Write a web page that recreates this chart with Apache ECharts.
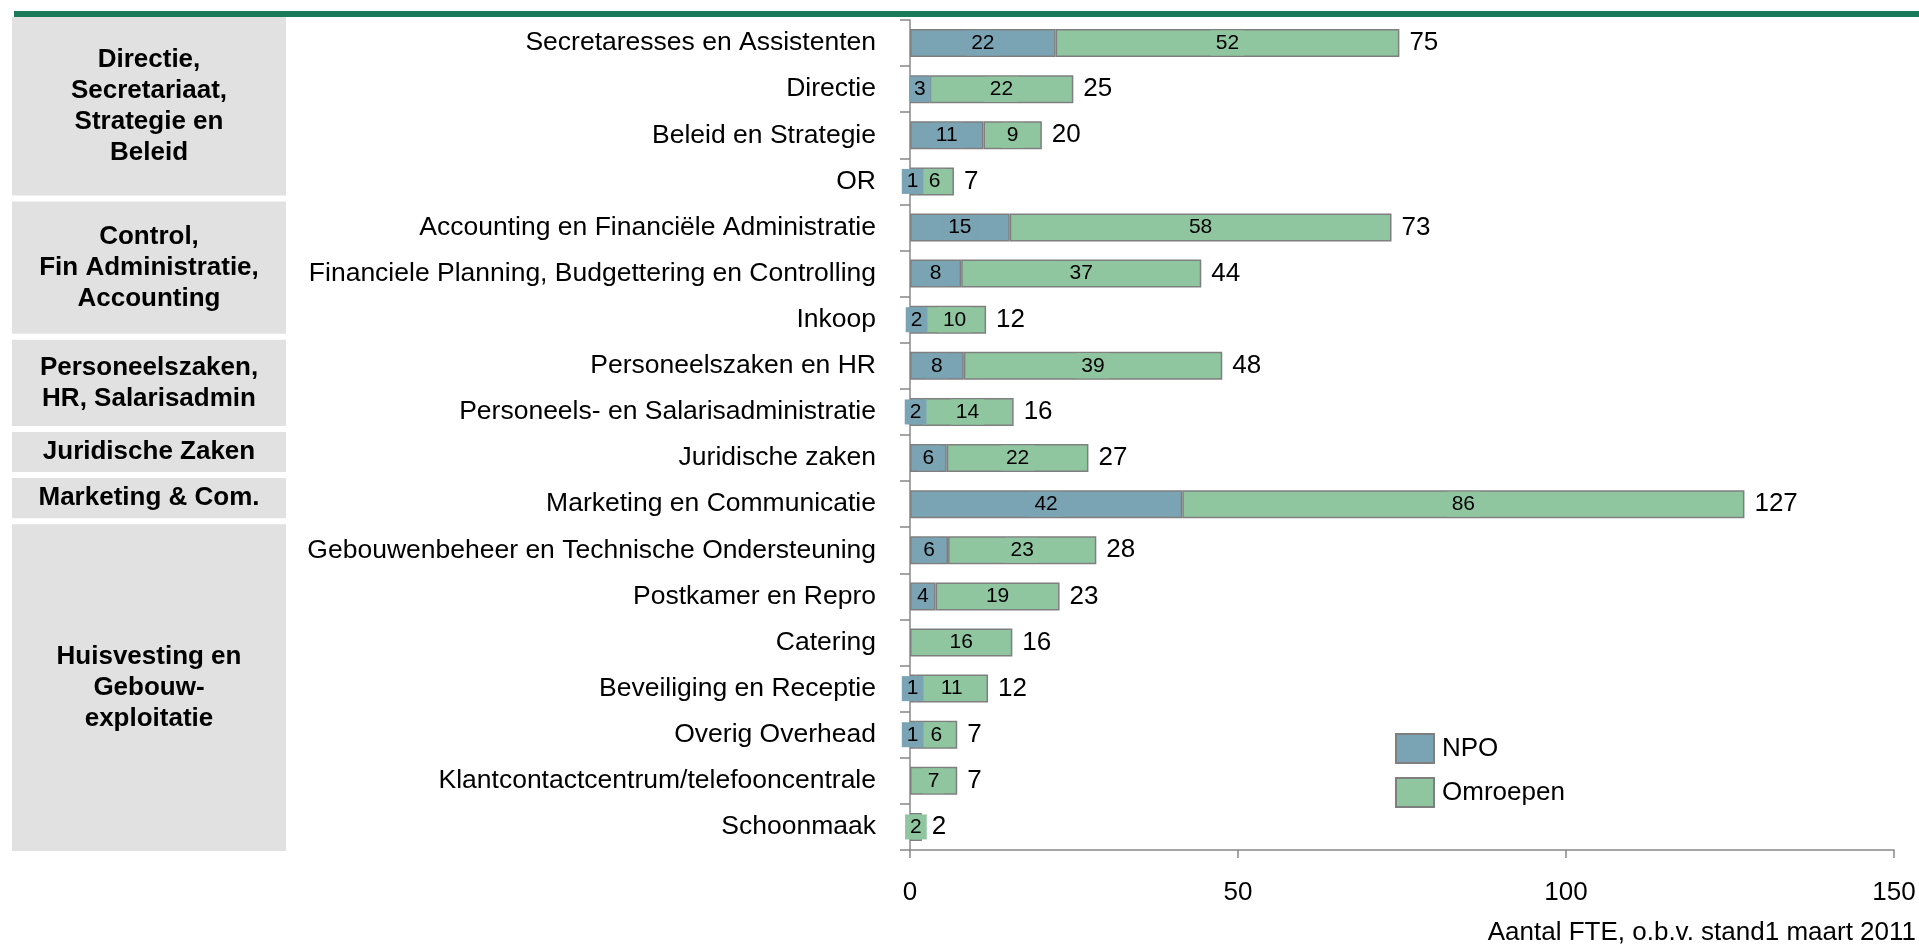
<!DOCTYPE html>
<html>
<head>
<meta charset="utf-8">
<script src="https://cdn.jsdelivr.net/npm/echarts@6/dist/echarts.min.js"></script>
<style>
html,body{margin:0;padding:0;background:#fff;}
#chart{width:1919px;height:949px;}
</style>
</head>
<body>
<div id="chart"></div>
<script>
const categories = [
  'Secretaresses en Assistenten',
  'Directie',
  'Beleid en Strategie',
  'OR',
  'Accounting en Financiële Administratie',
  'Financiele Planning, Budgettering en Controlling',
  'Inkoop',
  'Personeelszaken en HR',
  'Personeels- en Salarisadministratie',
  'Juridische zaken',
  'Marketing en Communicatie',
  'Gebouwenbeheer en Technische Ondersteuning',
  'Postkamer en Repro',
  'Catering',
  'Beveiliging en Receptie',
  'Overig Overhead',
  'Klantcontactcentrum/telefooncentrale',
  'Schoonmaak'
];
const npo      = [22.2, 3.0, 11.2, 0.8, 15.2, 7.8, 2.0, 8.2, 1.7, 5.6, 41.5, 5.8, 3.9, 0, 0.8, 0.8, 0, 0];
const omroepen = [52.4, 21.9, 8.9, 5.9, 58.2, 36.6, 9.6, 39.4, 14.1, 21.6, 85.7, 22.6, 18.9, 15.6, 11.1, 6.4, 7.2, 1.8];
const seriesNames = ['NPO', 'Omroepen'];
const xTicks = [0, 50, 100, 150];
const groupNames = [
  'Directie,\nSecretariaat,\nStrategie en\nBeleid',
  'Control,\nFin Administratie,\nAccounting',
  'Personeelszaken,\nHR, Salarisadmin',
  'Juridische Zaken',
  'Marketing & Com.',
  'Huisvesting en\nGebouw-\nexploitatie'
];
const groupFirst = [0, 4, 7, 9, 10, 11];
const groupLast  = [3, 6, 8, 9, 10, 17];
const xTitle = 'Aantal FTE, o.b.v. stand1 maart 2011';

const FONT = "'Liberation Sans', Arial, Helvetica, sans-serif";
const colNPO = '#7aa3b3';
const colOmr = '#8fc6a0';
const borderCol = '#7f7f7f';

const totals = npo.map((v, i) => v + omroepen[i]);

function partData(arr) {
  return arr.map(v => v === 0 ? { value: 0, label: { show: false }, itemStyle: { borderWidth: 0 } } : v);
}

function innerLabel(color) {
  return {
    show: true,
    position: 'inside',
    color: '#000',
    fontFamily: FONT,
    fontSize: 21,
    backgroundColor: color,
    padding: [2, 5],
    formatter: p => String(Math.round(p.value))
  };
}

const chart = echarts.init(document.getElementById('chart'));
const option = {
  animation: false,
  backgroundColor: '#fff',
  textStyle: { fontFamily: FONT },
  grid: { left: 910, right: 25, top: 20, bottom: 99, containLabel: false },
  legend: {
    data: seriesNames,
    orient: 'vertical',
    left: 1390,
    top: 728,
    itemWidth: 38,
    itemHeight: 29,
    itemGap: 13,
    icon: 'rect',
    textStyle: { fontFamily: FONT, fontSize: 26, color: '#000', padding: [0, 0, 0, 3] }
  },
  xAxis: {
    type: 'value',
    min: xTicks[0],
    max: xTicks[xTicks.length - 1],
    interval: xTicks[1] - xTicks[0],
    axisLine: { show: true, lineStyle: { color: '#888', width: 1.5 } },
    axisTick: { show: true, length: 8, lineStyle: { color: '#888', width: 1.5 } },
    splitLine: { show: false },
    axisLabel: { color: '#000', fontSize: 26, fontFamily: FONT, margin: 30 }
  },
  yAxis: {
    type: 'category',
    data: categories,
    inverse: true,
    axisLine: { show: true, lineStyle: { color: '#888', width: 1.5 } },
    axisTick: { show: true, length: 10, lineStyle: { color: '#888', width: 1.5 } },
    axisLabel: { color: '#000', fontSize: 26.5, fontFamily: FONT, margin: 34 }
  },
  series: [
    {
      name: seriesNames[0], type: 'bar', stack: 'fte', barWidth: 28, barGap: '-100%',
      data: partData(npo),
      itemStyle: { color: colNPO, borderColor: borderCol, borderWidth: 1.5 },
      label: innerLabel(colNPO)
    },
    {
      name: seriesNames[1], type: 'bar', stack: 'fte', barWidth: 28, barGap: '-100%',
      data: partData(omroepen),
      itemStyle: { color: colOmr, borderColor: borderCol, borderWidth: 1.5 },
      label: innerLabel(colOmr)
    },
    {
      name: 'Totaal', type: 'bar', barWidth: 28, barGap: '-100%',
      data: totals,
      itemStyle: { color: 'rgba(0,0,0,0)' },
      z: 1,
      label: {
        show: true, position: 'right', distance: 10,
        color: '#000', fontFamily: FONT, fontSize: 26,
        formatter: p => String(Math.round(p.value))
      }
    }
  ]
};
chart.setOption(option);

// decorations: header line, group boxes and axis title
const c0 = chart.convertToPixel({ yAxisIndex: 0 }, 0);
const c1 = chart.convertToPixel({ yAxisIndex: 0 }, 1);
const band = c1 - c0;
const graphics = [
  { type: 'line', shape: { x1: 14, y1: 14, x2: 1919, y2: 14 }, style: { stroke: '#1b7a59', lineWidth: 6 } }
];
groupNames.forEach((name, g) => {
  const top = chart.convertToPixel({ yAxisIndex: 0 }, groupFirst[g]) - band / 2 - 3;
  const isLast = g === groupNames.length - 1;
  const bottom = chart.convertToPixel({ yAxisIndex: 0 }, groupLast[g]) + band / 2 + (isLast ? 1 : -9);
  graphics.push({
    type: 'rect',
    shape: { x: 12, y: top, width: 274, height: bottom - top },
    style: { fill: '#e1e1e1' }
  });
  graphics.push({
    type: 'text',
    style: {
      x: 149, y: (top + bottom) / 2,
      text: name,
      textAlign: 'center', textVerticalAlign: 'middle',
      font: 'bold 26px ' + FONT,
      lineHeight: 31,
      fill: '#000'
    }
  });
});
graphics.push({
  type: 'text',
  right: 3, top: 920,
  style: { text: xTitle, font: '26px ' + FONT, fill: '#000' }
});
chart.setOption({ graphic: graphics });
</script>
</body>
</html>
